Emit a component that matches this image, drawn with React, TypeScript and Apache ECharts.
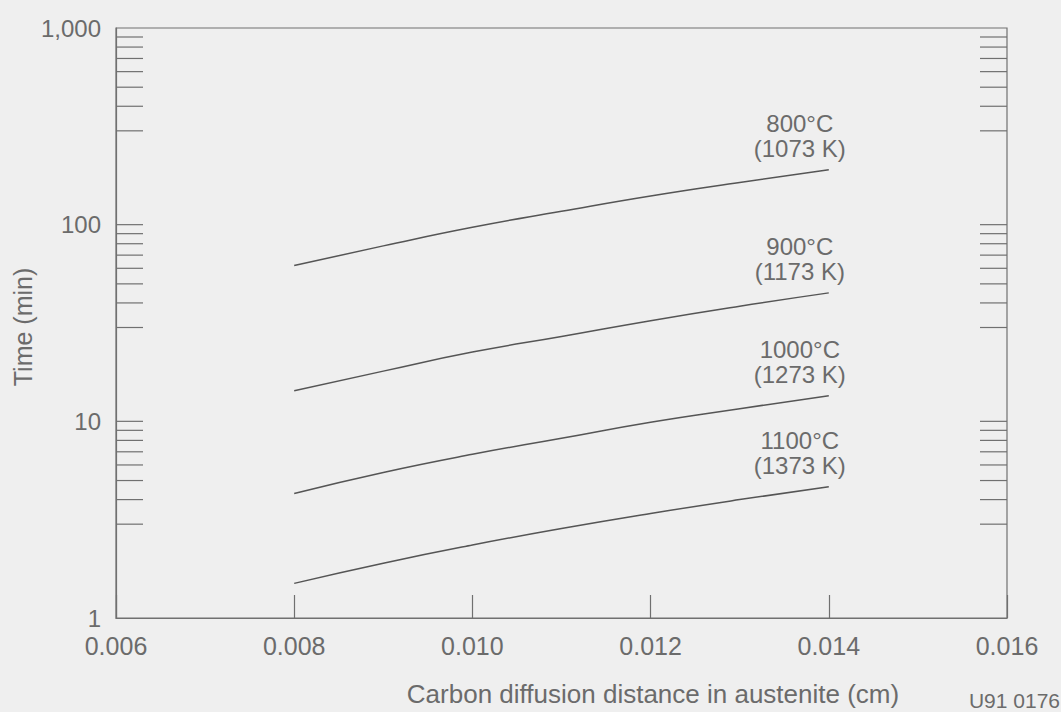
import React, { useEffect, useRef } from "react";
import * as echarts from "echarts";

const diffusionDistance = [0.008, 0.009, 0.01, 0.011, 0.012, 0.013, 0.014];
const time800 = [62, 78, 97, 117, 140, 164, 190];
const time900 = [14.3, 18, 22.5, 27, 32.5, 38.5, 45];
const time1000 = [4.3, 5.5, 6.8, 8.2, 9.9, 11.6, 13.5];
const time1100 = [1.5, 1.9, 2.35, 2.85, 3.4, 4.0, 4.65];
const curveLabels = [
  "800°C\n(1073 K)",
  "900°C\n(1173 K)",
  "1000°C\n(1273 K)",
  "1100°C\n(1373 K)",
];
const yLabelValues = [1, 10, 100, 1000];
const yMinorTicks = [3, 4, 5, 6, 7, 8, 9, 10, 30, 40, 50, 60, 70, 80, 90, 100, 300, 400, 500, 600, 700, 800, 900];

const TEXT = "#6b6b6b";
const LINE = "#555555";
const AXIS = "#707070";
const FONT = "'Liberation Sans', Arial, sans-serif";

export default function App() {
  const ref = useRef<HTMLDivElement>(null);
  useEffect(() => {
    if (!ref.current) return;
    const chart = echarts.init(ref.current, undefined, { renderer: "svg" });
    const allSeries = [time800, time900, time1000, time1100];
    const lineSeries = allSeries.map((vals, si) => {
      const n = vals.length - 1;
      return {
        type: "line",
        symbol: "none",
        smooth: 0.5,
        lineStyle: { color: LINE, width: 1.5 },
        data: diffusionDistance.map((x, i) => [x, vals[i]]),
        markPoint: {
          symbol: "circle",
          symbolSize: 0,
          silent: true,
          data: [
            {
              coord: [diffusionDistance[n], vals[n]],
              label: {
                show: true,
                formatter: curveLabels[si],
                position: "top",
                distance: 9,
                offset: [-29, 0],
                color: TEXT,
                fontSize: 24,
                lineHeight: 25,
                fontFamily: FONT,
                align: "center",
              },
            },
          ],
        },
        z: 3,
      };
    });
    chart.setOption({
      animation: false,
      backgroundColor: "#efefef",
      grid: {
        left: 116,
        right: 54,
        top: 28,
        bottom: 94,
        show: true,
        borderColor: AXIS,
        borderWidth: 1.2,
        backgroundColor: "transparent",
      },
      xAxis: {
        type: "value",
        min: 0.006,
        max: 0.016,
        interval: 0.002,
        axisLine: { show: true, lineStyle: { color: AXIS, width: 1.2 } },
        axisTick: { show: true, inside: true, length: 23, lineStyle: { color: AXIS, width: 1.2 } },
        splitLine: { show: false },
        axisLabel: {
          margin: 15,
          color: TEXT,
          fontSize: 25,
          fontFamily: FONT,
          formatter: (v: number) => v.toFixed(3),
        },
      },
      yAxis: {
        type: "log",
        logBase: 10,
        min: 1,
        max: 1000,
        axisLine: { show: true, lineStyle: { color: AXIS, width: 1.2 } },
        axisTick: { show: false },
        splitLine: { show: false },
        minorTick: { show: false },
        axisLabel: {
          margin: 15,
          color: TEXT,
          fontSize: 24,
          fontFamily: FONT,
          formatter: (v: number) => (yLabelValues.indexOf(v) >= 0 ? (v === 1000 ? "1,000" : String(v)) : ""),
        },
      },
      graphic: [
        {
          type: "text",
          x: 653,
          y: 694,
          style: {
            text: "Carbon diffusion distance in austenite (cm)",
            fill: TEXT,
            fontSize: 26,
            fontFamily: FONT,
            textAlign: "center",
            textVerticalAlign: "middle",
          },
        },
        {
          type: "text",
          x: 23,
          y: 327,
          rotation: Math.PI / 2,
          style: {
            text: "Time (min)",
            fill: TEXT,
            fontSize: 25,
            fontFamily: FONT,
            textAlign: "center",
            textVerticalAlign: "middle",
          },
        },
        {
          type: "text",
          x: 1060,
          y: 700,
          style: {
            text: "U91 0176",
            fill: TEXT,
            fontSize: 21,
            fontFamily: FONT,
            textAlign: "right",
            textVerticalAlign: "middle",
          },
        },
      ],
      series: [
        ...lineSeries,
        {
          type: "custom",
          silent: true,
          data: yMinorTicks.map((v) => [v]),
          encode: { y: 0 },
          renderItem: (params: any, api: any) => {
            const v = api.value(0);
            const pl = api.coord([0.006, v]);
            const pr = api.coord([0.016, v]);
            const style = { stroke: AXIS, lineWidth: 1.2 };
            return {
              type: "group",
              children: [
                { type: "line", shape: { x1: pl[0], y1: pl[1], x2: pl[0] + 27, y2: pl[1] }, style },
                { type: "line", shape: { x1: pr[0] - 27, y1: pr[1], x2: pr[0], y2: pr[1] }, style },
              ],
            };
          },
          z: 2,
        },
      ],
    });
    return () => chart.dispose();
  }, []);
  return (
    <div
      ref={ref}
      style={{ position: "fixed", left: 0, top: 0, width: 1061, height: 712 }}
    />
  );
}
